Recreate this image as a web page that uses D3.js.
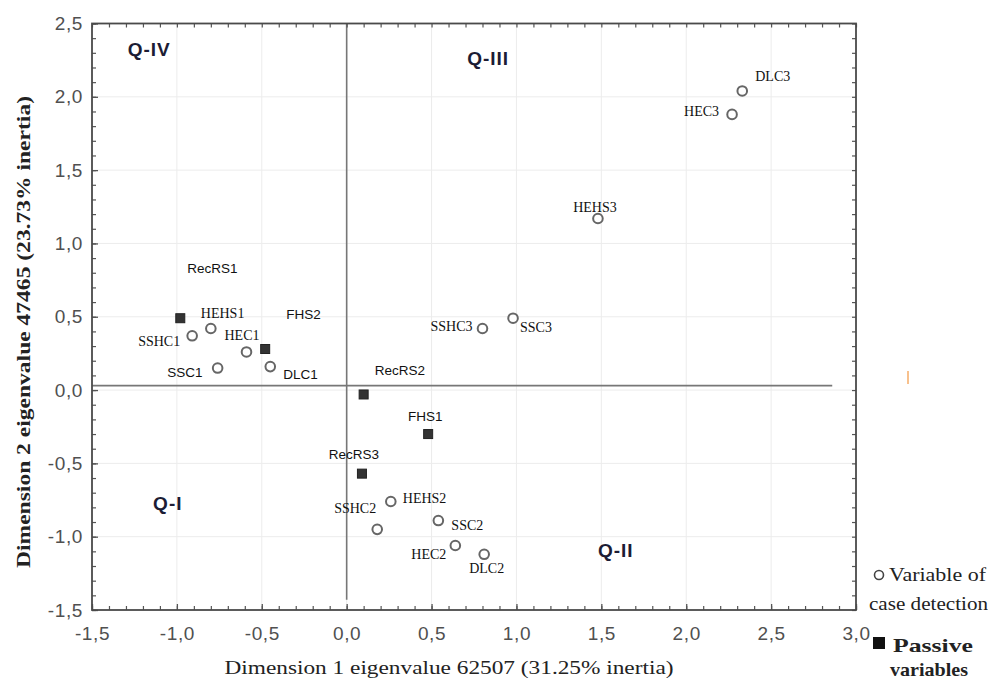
<!DOCTYPE html>
<html>
<head>
<meta charset="utf-8">
<script src="https://cdn.jsdelivr.net/npm/d3@7"></script>
<style>
  html, body { margin: 0; padding: 0; background: #fff; }
  svg { display: block; }
</style>
</head>
<body>
<svg id="chart" width="988" height="679"></svg>
<script>
// ---- data ----
const activeNames = ["DLC3","HEC3","HEHS3","SSHC3","SSC3","HEHS1","SSHC1","HEC1","SSC1","DLC1","HEHS2","SSHC2","SSC2","HEC2","DLC2"];
const activeDim1  = [2.33, 2.27, 1.48, 0.80, 0.98, -0.80, -0.91, -0.59, -0.76, -0.45, 0.26, 0.18, 0.54, 0.64, 0.81];
const activeDim2  = [2.04, 1.88, 1.17, 0.42, 0.49, 0.42, 0.37, 0.26, 0.15, 0.16, -0.76, -0.95, -0.89, -1.06, -1.12];
const passiveNames = ["RecRS1","FHS2","RecRS2","FHS1","RecRS3"];
const passiveDim1  = [-0.98, -0.48, 0.10, 0.48, 0.09];
const passiveDim2  = [0.49, 0.28, -0.03, -0.30, -0.57];
const xTicks = [-1.5,-1.0,-0.5,0.0,0.5,1.0,1.5,2.0,2.5,3.0];
const yTicks = [-1.5,-1.0,-0.5,0.0,0.5,1.0,1.5,2.0,2.5];
const quadrantNames = ["Q-IV","Q-III","Q-I","Q-II"];
const quadrantDim1  = [-1.29, 0.71, -1.14, 1.48];
const quadrantDim2  = [2.28, 2.22, -0.82, -1.14];
const xTitle = "Dimension 1 eigenvalue 62507 (31.25% inertia)";
const yTitle = "Dimension 2 eigenvalue 47465 (23.73% inertia)";
const legendActive = ["Variable of", "case detection"];
const legendPassive = ["Passive", "variables"];

// ---- label layout (pixel offsets from marker) ----
const labelLayout = {
  DLC3:  {dx: 13,  dy: -10, a: "start",  f: "serif"},
  HEC3:  {dx: -13, dy: 2,   a: "end",    f: "serif"},
  HEHS3: {dx: -3,  dy: -7,  a: "middle", f: "serif"},
  SSHC3: {dx: -10, dy: 3,   a: "end",    f: "serif"},
  SSC3:  {dx: 7,   dy: 14,  a: "start",  f: "serif"},
  HEHS1: {dx: -10, dy: -10, a: "start",  f: "serif"},
  SSHC1: {dx: -12, dy: 10,  a: "end",    f: "serif"},
  HEC1:  {dx: -22, dy: -12, a: "start",  f: "serif"},
  SSC1:  {dx: -15, dy: 9,   a: "end",    f: "sans"},
  DLC1:  {dx: 13,  dy: 12,  a: "start",  f: "sans"},
  HEHS2: {dx: 12,  dy: 2,   a: "start",  f: "serif"},
  SSHC2: {dx: -1,  dy: -16, a: "end",    f: "serif"},
  SSC2:  {dx: 13,  dy: 9,   a: "start",  f: "serif"},
  HEC2:  {dx: -9,  dy: 14,  a: "end",    f: "serif"},
  DLC2:  {dx: -15, dy: 19,  a: "start",  f: "serif"},
  RecRS1:{dx: 7,   dy: -45, a: "start",  f: "sans"},
  FHS2:  {dx: 21,  dy: -30, a: "start",  f: "sans"},
  RecRS2:{dx: 11,  dy: -19, a: "start",  f: "sans"},
  FHS1:  {dx: -3,  dy: -13, a: "middle", f: "sans"},
  RecRS3:{dx: -8,  dy: -15, a: "middle", f: "sans"}
};

const svg = d3.select("#chart");
const L = 92, R = 856, T = 23.5, B = 610;
const x = d3.scaleLinear().domain([-1.5, 3.0]).range([L, R]);
const y = d3.scaleLinear().domain([-1.5, 2.5]).range([B, T]);
const fmt = v => d3.format(".1f")(v).replace(".", ",").replace("−", "-");
const minorX = d3.range(-15, 31).map(v => v / 10);
const minorY = d3.range(-15, 26).map(v => v / 10);

const SERIF = "'Liberation Serif','Times New Roman',serif";
const SANS = "'Liberation Sans',Arial,sans-serif";

// grid
const grid = svg.append("g");
grid.selectAll("line.gx").data(xTicks.slice(1, -1)).join("line")
  .attr("x1", d => x(d)).attr("x2", d => x(d)).attr("y1", T).attr("y2", B)
  .attr("stroke", "#ececec").attr("stroke-width", 1);
grid.selectAll("line.gy").data(yTicks.slice(1, -1)).join("line")
  .attr("x1", L).attr("x2", R).attr("y1", d => y(d)).attr("y2", d => y(d))
  .attr("stroke", "#ececec").attr("stroke-width", 1);

// reference lines
svg.append("line").attr("x1", x(-1.5)).attr("x2", x(2.86)).attr("y1", y(0.03)).attr("y2", y(0.03))
  .attr("stroke", "#777").attr("stroke-width", 1.6);
svg.append("line").attr("x1", x(0.0)).attr("x2", x(0.0)).attr("y1", T).attr("y2", y(-1.43))
  .attr("stroke", "#777").attr("stroke-width", 1.6);

// axes
function styleAxis(g) {
  g.select(".domain").remove();
  g.selectAll(".tick line").attr("stroke", "#555").attr("stroke-width", 1.3);
  g.selectAll("text").attr("font-family", SANS).attr("font-size", 19).attr("fill", "#505050")
    .attr("letter-spacing", 0.6);
}
const minorAxisStyle = g => {
  g.select(".domain").remove();
  g.selectAll(".tick line").attr("stroke", "#555").attr("stroke-width", 1.2);
  g.selectAll("text").remove();
};
svg.append("g").attr("transform", `translate(0,${B})`)
  .call(d3.axisBottom(x).tickValues(minorX).tickSize(-4).tickFormat("")).call(minorAxisStyle);
svg.append("g").attr("transform", `translate(0,${T})`)
  .call(d3.axisTop(x).tickValues(minorX).tickSize(-4).tickFormat("")).call(minorAxisStyle);
svg.append("g").attr("transform", `translate(${L},0)`)
  .call(d3.axisLeft(y).tickValues(minorY).tickSize(-4).tickFormat("")).call(minorAxisStyle);
svg.append("g").attr("transform", `translate(${R},0)`)
  .call(d3.axisRight(y).tickValues(minorY).tickSize(-4).tickFormat("")).call(minorAxisStyle);

svg.append("g").attr("transform", `translate(0,${B})`)
  .call(d3.axisBottom(x).tickValues(xTicks).tickSizeInner(-6).tickSizeOuter(0).tickPadding(17).tickFormat(fmt))
  .call(styleAxis);
svg.append("g").attr("transform", `translate(${L},0)`)
  .call(d3.axisLeft(y).tickValues(yTicks).tickSizeInner(-6).tickSizeOuter(0).tickPadding(9).tickFormat(fmt))
  .call(styleAxis);

// frame
svg.append("rect").attr("x", L).attr("y", T).attr("width", R - L).attr("height", B - T)
  .attr("fill", "none").attr("stroke", "#4a4a4a").attr("stroke-width", 1.8);

// axis titles
svg.append("text").attr("x", 449).attr("y", 674).attr("text-anchor", "middle")
  .attr("font-family", SERIF).attr("font-size", 19).attr("fill", "#222")
  .attr("textLength", 449).attr("lengthAdjust", "spacingAndGlyphs").text(xTitle);
svg.append("text").attr("transform", "translate(30,332) rotate(-90)").attr("text-anchor", "middle")
  .attr("font-family", SERIF).attr("font-size", 19).attr("font-weight", "bold").attr("fill", "#222")
  .attr("textLength", 472).attr("lengthAdjust", "spacingAndGlyphs").text(yTitle);

// quadrant labels
svg.append("g").selectAll("text").data(quadrantNames).join("text")
  .attr("x", (d, i) => x(quadrantDim1[i])).attr("y", (d, i) => y(quadrantDim2[i]))
  .attr("font-family", SANS).attr("font-size", 19).attr("font-weight", "bold").attr("fill", "#1c1c34")
  .attr("letter-spacing", 1)
  .text(d => d);

// active points
const active = activeNames.map((n, i) => ({name: n, d1: activeDim1[i], d2: activeDim2[i]}));
const passive = passiveNames.map((n, i) => ({name: n, d1: passiveDim1[i], d2: passiveDim2[i]}));

svg.append("g").selectAll("circle").data(active).join("circle")
  .attr("cx", d => x(d.d1)).attr("cy", d => y(d.d2)).attr("r", 4.8)
  .attr("fill", "#fff").attr("stroke", "#666").attr("stroke-width", 2);

svg.append("g").selectAll("rect").data(passive).join("rect")
  .attr("x", d => x(d.d1) - 4.5).attr("y", d => y(d.d2) - 4.5).attr("width", 9).attr("height", 9)
  .attr("fill", "#333").attr("stroke", "#222").attr("stroke-width", 1);

// point labels
svg.append("g").selectAll("text").data(active.concat(passive)).join("text")
  .attr("x", d => x(d.d1) + labelLayout[d.name].dx)
  .attr("y", d => y(d.d2) + labelLayout[d.name].dy)
  .attr("text-anchor", d => labelLayout[d.name].a)
  .attr("font-family", d => labelLayout[d.name].f === "serif" ? SERIF : SANS)
  .attr("font-size", d => labelLayout[d.name].f === "serif" ? 14 : 13.5)
  .attr("fill", "#111")
  .text(d => d.name);

// stray orange mark (from source image)
svg.append("line").attr("x1", 908).attr("x2", 908).attr("y1", 371).attr("y2", 384)
  .attr("stroke", "#f5a050").attr("stroke-width", 1.3);

// legend
svg.append("circle").attr("cx", 879).attr("cy", 575).attr("r", 4.5)
  .attr("fill", "#fff").attr("stroke", "#444").attr("stroke-width", 1.6);
svg.append("text").attr("x", 889).attr("y", 581).attr("font-family", SERIF).attr("font-size", 18)
  .attr("fill", "#222").attr("textLength", 97).attr("lengthAdjust", "spacingAndGlyphs").text(legendActive[0]);
svg.append("text").attr("x", 869).attr("y", 610).attr("font-family", SERIF).attr("font-size", 18)
  .attr("fill", "#222").attr("textLength", 119).attr("lengthAdjust", "spacingAndGlyphs").text(legendActive[1]);
svg.append("rect").attr("x", 873).attr("y", 637).attr("width", 12).attr("height", 12).attr("fill", "#111");
svg.append("text").attr("x", 893).attr("y", 652).attr("font-family", SERIF).attr("font-size", 19)
  .attr("font-weight", "bold").attr("fill", "#222").attr("textLength", 80).attr("lengthAdjust", "spacingAndGlyphs").text(legendPassive[0]);
svg.append("text").attr("x", 890).attr("y", 676).attr("font-family", SERIF).attr("font-size", 19)
  .attr("font-weight", "bold").attr("fill", "#222").attr("textLength", 78).attr("lengthAdjust", "spacingAndGlyphs").text(legendPassive[1]);
</script>
</body>
</html>
